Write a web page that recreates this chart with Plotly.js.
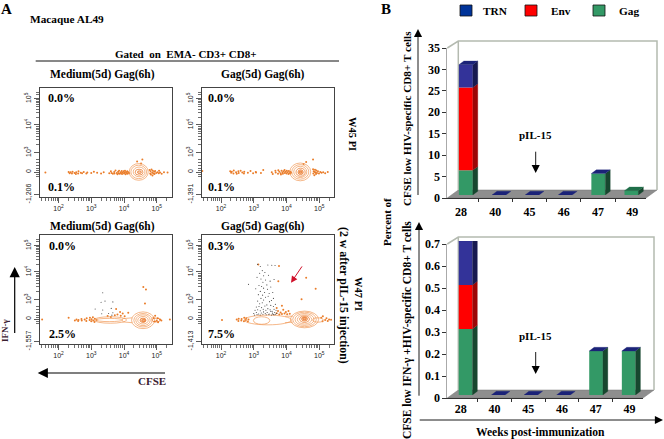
<!DOCTYPE html>
<html>
<head>
<meta charset="utf-8">
<script src="https://cdn.plot.ly/plotly-3.0.1.min.js"></script>
<style>html,body{margin:0;padding:0;background:#fff}</style>
</head>
<body>
<div id="myPlot" style="width:664px;height:439px"></div>
<script>
// Panel B values
const weeks = ["28", "40", "45", "46", "47", "49"];
const gagTop = [5.8, 0, 0, 0, 5, 1];
const envTop = [19.3, 0, 0, 0, 0, null];
const trnTop = [5.3, 0, 0, 0, 0, null];
const gagLow = [0.3, 0, 0, 0, 0.2, 0.2];
const envLow = [0.2, 0, 0, 0, 0, 0];
const trnLow = [0.2, 0, 0, 0, 0, 0];

// Panel A events (x = log10 CFSE, y = biexponential display units)
const w45MedX = [1.6,2.31,2.34,2.37,2.41,2.43,2.49,2.53,2.54,2.6,2.61,2.68,2.72,2.77,2.85,2.88,3.0,3.08,3.18,3.3,3.38,3.55,3.6,3.62,3.66,3.7,3.71,3.74,3.78,3.8,3.82,3.84,3.85,3.87,3.9,3.91,3.93,3.94,3.96,3.99,4.0,4.02,4.03,4.05,4.06,4.08,4.1,4.11,4.13,4.16,4.78,4.8,4.81,4.82,4.84,4.86,4.87,4.88,4.9,4.92,4.93,4.95,4.98,5.02,5.06,5.07,5.1,5.15,5.22,5.33,4.56,4.52,4.4];
const w45MedY = [2.24,2.26,2.21,2.25,2.2,2.27,2.22,2.18,2.25,2.2,2.28,2.23,2.21,2.26,2.2,2.24,2.22,2.27,2.23,2.2,2.25,2.21,2.28,2.22,2.19,2.26,2.2,2.31,2.22,2.17,2.27,2.21,2.3,2.19,2.25,2.21,2.29,2.18,2.24,2.28,2.2,2.23,2.3,2.17,2.26,2.22,2.28,2.19,2.25,2.21,2.33,2.2,2.28,2.16,2.35,2.23,2.13,2.3,2.2,2.27,2.18,2.29,2.22,2.25,2.21,2.3,2.24,2.19,2.25,2.24,2.72,2.57,2.65];
const w45GagX = [1.43,2.28,2.31,2.33,2.38,2.39,2.46,2.48,2.53,2.54,2.6,2.65,2.7,2.71,2.82,2.9,2.98,3.06,3.07,3.22,3.29,3.55,3.58,3.66,3.67,3.74,3.75,3.78,3.82,3.83,3.85,3.88,3.89,3.91,3.94,3.95,3.97,4.0,4.01,4.03,4.06,4.07,4.09,4.11,4.12,4.14,4.81,4.82,4.83,4.85,4.86,4.87,4.89,4.9,4.91,4.93,4.96,4.99,5.03,5.07,5.12,5.18,5.26,4.81,4.6,4.52];
const w45GagY = [2.29,2.28,2.23,2.27,2.2,2.31,2.25,2.19,2.28,2.22,2.3,2.24,2.2,2.27,2.23,2.29,2.21,2.26,2.24,2.22,2.33,2.25,2.18,2.3,2.24,2.19,2.32,2.27,2.21,2.16,2.3,2.24,2.19,2.28,2.33,2.22,2.27,2.2,2.3,2.25,2.18,2.29,2.22,2.27,2.2,2.24,2.36,2.2,2.28,2.14,2.26,2.34,2.24,2.18,2.31,2.22,2.28,2.2,2.26,2.23,2.25,2.21,2.26,2.72,2.63,2.55];
const w47MedX = [1.5,2.31,2.5,2.55,2.6,2.61,2.7,2.71,2.8,2.85,2.86,2.95,2.96,3.0,3.01,3.05,3.06,3.1,3.11,3.16,3.76,3.88,4.13,3.8,3.9,3.96,4.02,4.9,4.94,4.95,5.0,5.03,5.04,5.1,5.14,5.4,4.59,4.67,4.64,3.5,3.72,3.6];
const w47MedY = [2.24,2.3,2.2,2.24,2.18,2.22,2.26,2.2,2.24,2.18,2.28,2.22,2.3,2.17,2.25,2.32,2.2,2.15,2.27,2.22,2.63,2.52,2.49,2.42,2.38,2.46,2.36,2.3,2.16,2.38,2.2,2.28,2.14,2.24,2.2,2.24,3.44,3.35,2.83,2.37,2.4,2.33];
const w47GagX = [2.03,2.48,2.53,2.54,2.62,2.63,2.7,2.71,2.76,2.77,2.82,2.84,3.7,3.74,3.78,3.82,3.86,3.9,3.94,3.98,4.02,4.06,4.1,5.06,5.1,5.11,5.18,5.22,5.26,5.3,5.36,4.46,4.6,4.89,3.75,3.77,3.14,3.86,3.7];
const w47GagY = [2.22,2.24,2.18,2.27,2.2,2.26,2.17,2.3,2.22,2.28,2.16,2.24,2.47,2.55,2.42,2.5,2.44,2.6,2.46,2.52,2.43,2.55,2.45,2.3,2.17,2.36,2.22,2.28,2.18,2.24,2.23,2.99,3.79,3.38,3.66,4.22,4.28,2.75,2.66];
const w47MedCdX = [3.35,3.3,3.42,3.66,3.61,3.12,3.35,3.32,3.53,3.66,3.63];
const w47MedCdY = [3.23,2.88,2.92,2.89,2.65,2.63,2.59,2.45,2.46,2.49,2.4];
const w47GagCdX = [3.12,3.2,3.43,3.55,3.65,3.26,3.18,3.34,2.84,3.1,3.22,3.3,3.45,3.28,3.36,3.5,3.62,3.16,3.24,3.4,3.06,3.3,3.42,3.52,3.2,3.33,3.14,3.27,3.47,3.58,3.22,3.36,3.44,3.12,3.3,3.54,3.6,3.18,3.26,3.4,3.48,3.08,3.16,3.24,3.34,3.52,3.6,3.66,3.04,3.12,3.2,3.29,3.37,3.43,3.5,3.56,3.62,3.68,3.0,3.08,3.15,3.23,3.3,3.35,3.41,3.47,3.52,3.57,3.6,3.64,3.7,3.02,3.1,3.2,3.28,3.38,3.46,3.54,3.58,3.62,3.66];
const w47GagCdY = [4.28,4.2,4.26,4.25,4.24,4.05,3.95,3.98,3.54,3.8,3.74,3.86,3.88,3.62,3.7,3.66,3.72,3.5,3.46,3.52,3.38,3.4,3.36,3.44,3.28,3.24,3.16,3.14,3.2,3.24,3.02,3.06,3.1,2.92,2.96,2.94,3.02,2.82,2.86,2.78,2.9,2.7,2.72,2.68,2.74,2.76,2.72,2.8,2.58,2.6,2.56,2.62,2.58,2.64,2.6,2.54,2.62,2.58,2.46,2.5,2.44,2.48,2.52,2.46,2.5,2.44,2.54,2.48,2.42,2.5,2.46,2.4,2.42,2.4,2.43,2.41,2.42,2.4,2.44,2.41,2.43];

// Contour rings: centre and half widths
const w45MedRingX = [4.45,4.45,4.46,4.46,4.47];
const w45MedRingY = [2.26,2.26,2.26,2.25,2.25];
const w45MedRingW = [0.29,0.24,0.18,0.12,0.06];
const w45MedRingH = [0.31,0.25,0.18,0.11,0.05];
const w45GagRingX = [4.42,4.42,4.42,4.43,4.43,4.43];
const w45GagRingY = [2.26,2.26,2.26,2.25,2.25,2.25];
const w45GagRingW = [0.32,0.26,0.2,0.14,0.08,0.04];
const w45GagRingH = [0.33,0.27,0.21,0.15,0.09,0.04];
const w47MedRingX = [4.58,4.58,4.58,4.58,4.58,4.6,3.58,3.55,4.98];
const w47MedRingY = [2.21,2.21,2.21,2.21,2.21,2.2,2.22,2.22,2.22];
const w47MedRingW = [0.35,0.28,0.22,0.16,0.09,0.05,0.5,0.42,0.13];
const w47MedRingH = [0.31,0.25,0.2,0.14,0.08,0.04,0.12,0.06,0.07];
const w47GagRingX = [4.55,4.55,4.55,4.55,4.55,4.55,4.55,3.24,3.43,4.96];
const w47GagRingY = [2.24,2.24,2.24,2.24,2.25,2.26,2.27,2.2,2.22,2.22];
const w47GagRingW = [0.43,0.36,0.29,0.22,0.15,0.09,0.05,0.25,0.72,0.16];
const w47GagRingH = [0.31,0.27,0.22,0.17,0.12,0.08,0.04,0.14,0.18,0.08];
// contour bridge between the two peaks
const w47GagBridgeX = [3.95,4.1,4.2,null,3.95,4.1,4.2];
const w47GagBridgeY = [2.36,2.36,2.36,null,2.12,2.12,2.14];
const w47MedBridgeX = [3.95,4.1,4.25,null,3.95,4.1,4.25];
const w47MedBridgeY = [2.27,2.28,2.3,null,2.15,2.14,2.12];

// axis labels of panel A
const xLogTicks = [2, 3, 4, 5];
const xLogText = ["10<sup>2</sup>", "10<sup>3</sup>", "10<sup>4</sup>", "10<sup>5</sup>"];
const yBiexTicks = [1.42, 2.25, 2.97, 4.0, 4.97];
const yLowText = ["-1,206", "-1,391", "-1,557", "-1,413"];

const W = 664, H = 439;
const fx = p => p / W;
const fy = p => 1 - p / H;
const serif = "Liberation Serif";
const orange = "#ea7d2a";

const layout = {
  width: W, height: H,
  margin: {l: 0, r: 0, t: 0, b: 0},
  paper_bgcolor: "#fff", plot_bgcolor: "rgba(0,0,0,0)",
  showlegend: false, barmode: "overlay",
  shapes: [], annotations: []
};
const traces = [];

function note(text, x, y, size, angle, color, anchor) {
  layout.annotations.push({
    text: "<b>" + text + "</b>", xref: "paper", yref: "paper", x: fx(x), y: fy(y),
    xanchor: anchor || "center", yanchor: "middle", showarrow: false, textangle: angle || 0,
    font: {family: serif, size: size, color: color || "#000"}
  });
}

function arrow(x0, y0, x1, y1, color, width, size) {
  layout.annotations.push({
    text: " ", xref: "paper", yref: "paper", x: fx(x1), y: fy(y1),
    ax: x0 - x1, ay: y0 - y1, showarrow: true, arrowhead: 2, arrowsize: size,
    arrowwidth: width, arrowcolor: color, standoff: 0
  });
}

// minor ticks of the flow axes
const xMinor = [];
for (let d = 1; d < 6; d++) {
  for (let m = 2; m < 10; m++) {
    let v = d + Math.log10(m);
    if (v > 1.45 && v < 5.44) xMinor.push(v);
  }
}
const yMinor = [];
for (let d = 3; d < 5; d++) {
  for (let m = 2; m < 10; m++) yMinor.push(d + Math.log10(m) * 0.97);
}
yMinor.push(5.12, 5.22, 2.32, 2.4, 2.5, 2.6, 2.72, 2.18, 2.1);

// Panel A
function flowPanel(n, left, top, lowText, x, y, cdX, cdY, ringX, ringY, ringW, ringH, bridgeX, bridgeY) {
  const id = n === 1 ? "" : String(n);
  const right = left + 132, bottom = top + 109;
  layout["xaxis" + id] = {
    domain: [fx(left), fx(right)], range: [1.42, 5.45], anchor: "y" + id,
    tickmode: "array", tickvals: xLogTicks, ticktext: xLogText, ticks: "outside", ticklen: 5,
    tickcolor: "#333", tickwidth: 0.8, linecolor: "#444", linewidth: 1, mirror: true,
    showgrid: false, zeroline: false, tickfont: {family: "Liberation Sans", size: 7, color: "#222"},
    minor: {tickmode: "array", tickvals: xMinor, ticks: "outside", ticklen: 3, tickcolor: "#333", tickwidth: 0.7, showgrid: false}
  };
  layout["yaxis" + id] = {
    domain: [fy(bottom), fy(top)], range: [1.33, 5.37], anchor: "x" + id,
    tickmode: "array", tickvals: yBiexTicks,
    ticktext: [lowText, "0", "10<sup>3</sup>", "10<sup>4</sup>", "10<sup>5</sup>"],
    ticks: "outside", ticklen: 5, tickcolor: "#333", tickwidth: 0.8, tickangle: -90,
    linecolor: "#444", linewidth: 1, mirror: true, showgrid: false, zeroline: false,
    tickfont: {family: "Liberation Sans", size: 7, color: "#222"},
    minor: {tickmode: "array", tickvals: yMinor, ticks: "outside", ticklen: 3, tickcolor: "#333", tickwidth: 0.7, showgrid: false}
  };
  traces.push({x: x, y: y, xaxis: "x" + id, yaxis: "y" + id, type: "scatter", mode: "markers", marker: {size: 2, color: orange}, hoverinfo: "skip"});
  if (cdX) traces.push({x: cdX, y: cdY, xaxis: "x" + id, yaxis: "y" + id, type: "scatter", mode: "markers", marker: {size: 1.1, color: "#444"}, hoverinfo: "skip"});
  if (bridgeX) traces.push({x: bridgeX, y: bridgeY, xaxis: "x" + id, yaxis: "y" + id, type: "scatter", mode: "lines", line: {color: "#f09a58", width: 0.7}, hoverinfo: "skip"});
  for (let i = 0; i < ringX.length; i++) {
    layout.shapes.push({
      type: "circle", xref: "x" + id, yref: "y" + id, layer: "above",
      x0: ringX[i] - ringW[i], x1: ringX[i] + ringW[i], y0: ringY[i] - ringH[i], y1: ringY[i] + ringH[i],
      line: {color: ringW[i] > 0.15 ? "#f09a58" : "#e8701c", width: 0.7},
      fillcolor: ringW[i] < 0.1 ? "rgba(232,112,28,0.35)" : "rgba(0,0,0,0)"
    });
  }
}

flowPanel(1, 39.5, 88, yLowText[0], w45MedX, w45MedY, null, null, w45MedRingX, w45MedRingY, w45MedRingW, w45MedRingH);
flowPanel(2, 202, 88, yLowText[1], w45GagX, w45GagY, null, null, w45GagRingX, w45GagRingY, w45GagRingW, w45GagRingH);
flowPanel(3, 39.5, 235, yLowText[2], w47MedX, w47MedY, w47MedCdX, w47MedCdY, w47MedRingX, w47MedRingY, w47MedRingW, w47MedRingH, w47MedBridgeX, w47MedBridgeY);
flowPanel(4, 202, 235, yLowText[3], w47GagX, w47GagY, w47GagCdX, w47GagCdY, w47GagRingX, w47GagRingY, w47GagRingW, w47GagRingH, w47GagBridgeX, w47GagBridgeY);

// Panel A text
note("A", 6.5, 9, 15);
note("Macaque AL49", 66.5, 19, 11.3);
note("Gated  on  EMA- CD3+ CD8+", 185, 54, 11);
layout.shapes.push({type: "line", xref: "paper", yref: "paper", x0: fx(35.7), x1: fx(339), y0: fy(61), y1: fy(61), line: {color: "#111", width: 1}});
note("Medium(5d) Gag(6h)", 102, 75, 11.5);
note("Gag(5d) Gag(6h)", 263, 75, 11.5);
note("Medium(5d) Gag(6h)", 102, 226, 11.5);
note("Gag(5d) Gag(6h)", 263, 226, 11.5);
note("0.0%", 45.5, 98, 12, 0, "#000", "left");
note("0.1%", 46, 187, 12, 0, "#000", "left");
note("0.0%", 206, 98, 12, 0, "#000", "left");
note("0.1%", 206, 187, 12, 0, "#000", "left");
note("0.0%", 47, 246, 12, 0, "#000", "left");
note("2.5%", 47, 334, 12, 0, "#000", "left");
note("0.3%", 206, 246, 12, 0, "#000", "left");
note("7.5%", 206, 334, 12, 0, "#000", "left");
note("W45 PI", 352, 134, 10.5, 90);
note("W47 PI", 359, 294, 10.5, 90);
note("(2 w after pIL-15 injection)", 344, 295, 11.8, 90);
note("IFN-γ", 5, 331, 9, -90, "#3a2030");
note("CFSE", 152, 381, 11, 0, "#3a2030");
arrow(14.7, 343, 14.7, 267, "#000", 1.2, 1.7);
arrow(168, 373, 37.7, 373, "#000", 1.2, 1.7);
arrow(305, 262, 291, 282.7, "#d0102a", 1, 1.3);

// Panel B, drawn with a faked 3D look
const colors = {
  gag: {front: "#339966", side: "#17472f", top: "#1f6f49"},
  env: {front: "#ff0000", side: "#9c0606", top: "#9c0606"},
  trn: {front: "#333399", side: "#171a50", top: "#1b2378"}
};
const depthX = 0.15, halfBar = 0.21;

function barChart(idA, idB, frame, yMax, yStep, tickFmt, series, standoff) {
  const slope = frame.bottom - frame.top;
  const depthY = 3.7 * yMax / slope;
  const ticks = [];
  for (let v = 0; v <= yMax + 1e-9; v += yStep) ticks.push(+v.toFixed(1));

  layout["xaxis" + idA] = {
    domain: [fx(frame.left), fx(frame.right)], anchor: "y" + idA, type: "category",
    categoryorder: "array", categoryarray: weeks, tickson: "boundaries", ticks: "outside", ticklen: 3,
    tickcolor: "#333", linecolor: "#333", linewidth: 1, showgrid: false, zeroline: false, ticklabelstandoff: standoff,
    tickfont: {family: serif, size: 12, weight: "bold", color: "#000"}
  };
  layout["yaxis" + idA] = {
    domain: [fy(frame.bottom), fy(frame.top)], range: [0, yMax], anchor: "x" + idA,
    tickmode: "array", tickvals: ticks, ticktext: ticks.map(tickFmt), ticks: "outside", ticklen: 4,
    tickcolor: "#333", linecolor: "#aaa", linewidth: 1, showgrid: false, zeroline: false,
    tickfont: {family: serif, size: 12, weight: "bold", color: "#000"}
  };
  traces.push({x: weeks, y: weeks.map(() => 0), xaxis: "x" + idA, yaxis: "y" + idA, type: "scatter", mode: "markers", marker: {opacity: 0}, hoverinfo: "skip"});

  // hidden axes for the bars: front plane sits slightly inside the floor
  layout["xaxis" + idB] = {domain: [fx(frame.left + 2), fx(frame.right + 2)], range: [-0.5, 5.5], anchor: "y" + idB, visible: false};
  layout["yaxis" + idB] = {domain: [fy(frame.bottom - 3), fy(frame.top - 3)], range: [0, yMax], anchor: "x" + idB, visible: false};

  const pos = weeks.map((w, i) => i);
  const floor = weeks.map(() => 0);
  const topOwner = weeks.map(() => null);
  series.forEach(s => {
    const base = floor.slice();
    traces.push({
      x: pos, y: s.values.map(v => v || 0), base: base, width: halfBar * 2, xaxis: "x" + idB, yaxis: "y" + idB, type: "bar",
      marker: {color: s.c.front, line: {width: 0}}, hoverinfo: "skip"
    });
    const sideX = [], sideY = [];
    s.values.forEach((v, i) => {
      if (v === null) return;
      topOwner[i] = s;
      if (v > 0) {
        const a = floor[i], b = floor[i] + v, r = i + halfBar;
        sideX.push(r, r + depthX, r + depthX, r, r, null);
        sideY.push(a, a + depthY, b + depthY, b, a, null);
        floor[i] = b;
      }
    });
    traces.push({x: sideX, y: sideY, xaxis: "x" + idB, yaxis: "y" + idB, type: "scatter", mode: "lines", fill: "toself", fillcolor: s.c.side, line: {color: s.c.side, width: 0.3}, hoverinfo: "skip"});
  });
  weeks.forEach((w, i) => {
    const c = topOwner[i].c.top, t = floor[i], l = i - halfBar, r = i + halfBar;
    traces.push({x: [l, l + depthX, r + depthX, r, l], y: [t, t + depthY, t + depthY, t, t], xaxis: "x" + idB, yaxis: "y" + idB, type: "scatter", mode: "lines", fill: "toself", fillcolor: c, line: {color: c, width: 0.3}, hoverinfo: "skip"});
  });

  // wall and floor
  const ox = 11, oy = -8;
  layout.shapes.push({
    type: "path", xref: "paper", yref: "paper", layer: "below", fillcolor: "#8e8e8e", line: {color: "#777", width: 0.5},
    path: "M" + fx(frame.left) + " " + fy(frame.bottom) + "L" + fx(frame.left + ox) + " " + fy(frame.bottom + oy) +
      "L" + fx(frame.right + ox) + " " + fy(frame.bottom + oy) + "L" + fx(frame.right) + " " + fy(frame.bottom) + "Z"
  });
  layout.shapes.push({
    type: "path", xref: "paper", yref: "paper", layer: "below", line: {color: "#b4bab0", width: 1.5},
    path: "M" + fx(frame.left) + " " + fy(frame.top) + "L" + fx(frame.left + ox) + " " + fy(frame.top - 7) +
      "L" + fx(frame.right + ox) + " " + fy(frame.top - 7) + "L" + fx(frame.right + ox) + " " + fy(frame.bottom + oy) +
      "M" + fx(frame.left + ox) + " " + fy(frame.top - 7) + "L" + fx(frame.left + ox) + " " + fy(frame.bottom + oy)
  });
}

barChart(5, 6, {left: 447.3, right: 646, top: 48, bottom: 198}, 35, 5, v => String(v),
  [{values: gagTop, c: colors.gag}, {values: envTop, c: colors.env}, {values: trnTop, c: colors.trn}], 3);
barChart(7, 8, {left: 447.3, right: 643, top: 244, bottom: 398}, 0.7, 0.1, v => (v === 0 ? "0" : v.toFixed(1)),
  [{values: gagLow, c: colors.gag}, {values: envLow, c: colors.env}, {values: trnLow, c: colors.trn}], 0);

// Panel B text and legend
note("B", 385.5, 8.5, 15);
const legendNames = ["TRN", "Env", "Gag"];
const legendColors = ["#003399", "#ff0000", "#339966"];
const legendBox = [460, 525, 593];
const legendText = [481, 549, 617];
legendNames.forEach((name, i) => {
  layout.shapes.push({
    type: "rect", xref: "paper", yref: "paper", x0: fx(legendBox[i]), x1: fx(legendBox[i] + 12), y0: fy(5), y1: fy(16),
    fillcolor: legendColors[i], line: {color: "#111", width: 0.8}
  });
  note(name, legendText[i], 10.5, 11.3, 0, "#000", "left");
});
note("CFSE low HIV-specific CD8+ T cells", 407, 119, 11.2, -90);
note("Percent of", 387, 222, 11, -90);
note("CFSE low IFN-γ +HIV-specific CD8+ T cells", 407, 330, 11.5, -90);
note("pIL-15", 535.7, 135, 11);
note("pIL-15", 535.7, 335.7, 11);
note("Weeks post-immunization", 540, 432, 11.6);
arrow(535.7, 141.7, 535.7, 173, "#000", 0.9, 1.8);
arrow(535.7, 342, 535.7, 374, "#000", 0.9, 1.8);
arrow(418, 205, 418, 29, "#000", 0.9, 1.8);
arrow(419, 405.7, 419, 222, "#000", 0.9, 1.8);
arrow(416.7, 420, 663, 420, "#000", 0.9, 1.8);

Plotly.newPlot("myPlot", traces, layout, {displayModeBar: false, staticPlot: true});
</script>
</body>
</html>
